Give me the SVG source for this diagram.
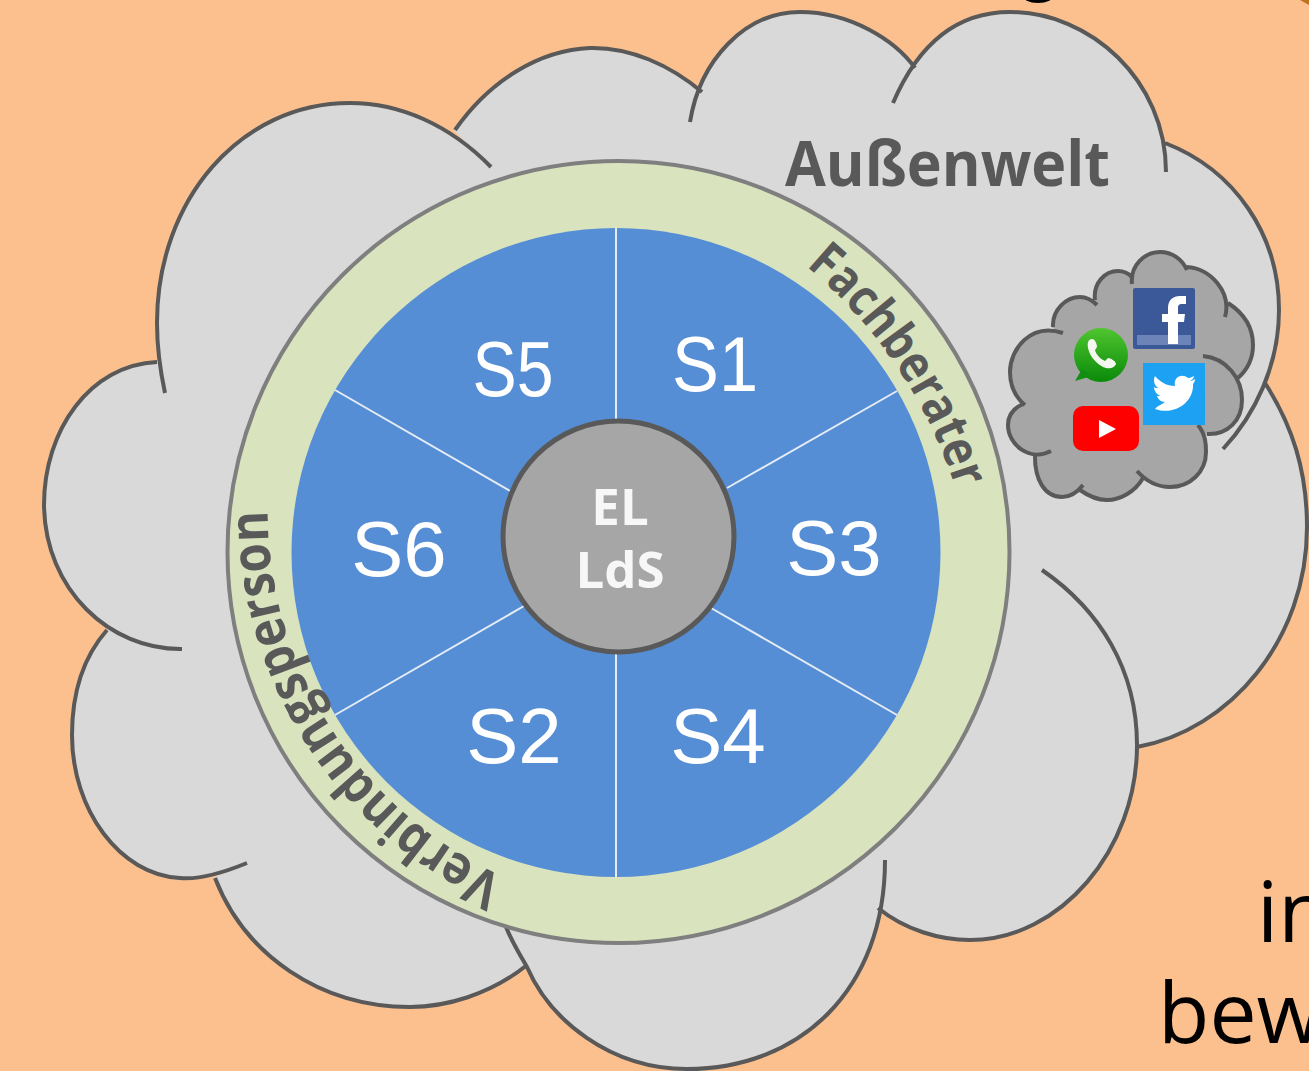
<svg xmlns="http://www.w3.org/2000/svg" xmlns:xlink="http://www.w3.org/1999/xlink" width="1309" height="1071" viewBox="0 0 1309 1071">
<style>
.sl{font-family:"Liberation Sans",Arial,sans-serif;font-size:78px;fill:#fff;text-anchor:middle}
.b{font-family:"Open Sans","Liberation Sans",sans-serif;font-weight:700}
.cl{stroke:#595959;fill:none;stroke-width:4;stroke-linecap:butt}
.seg{stroke:#e6ecf5;stroke-width:2;fill:none}
.blk{font-family:"Open Sans","Liberation Sans",sans-serif;font-size:84px;fill:#000}
</style>
<defs>
<path id="big" d="M165 393C159 365 157 340 157 323C157 200 240 103 350 103C400 103 450 125 491 167M182 649C110 650 45 590 44 505C44 430 90 365 157 362M247 863C225 872 200 880 180 878C120 875 72 810 72 735C72 690 85 655 107 630M527 965C490 995 445 1007 410 1007C320 1007 245 955 215 878M885 860C885 990 800 1069 687 1069C610 1069 550 1020 527 967C520 955 512 942 506 927M878 908C905 930 940 940 970 940C1060 940 1137 850 1137 745C1137 670 1100 610 1042 570M1137 747C1230 730 1307 640 1307 527C1307 470 1292 425 1265 383M1223 449C1255 415 1279 365 1279 310C1279 235 1235 170 1165 143M893 103C920 40 960 12 1010 12C1090 12 1166 80 1166 172M690 122C700 60 745 12 800 12C850 12 895 40 915 68M455 130C490 80 540 50 590 48C630 47 670 65 702 92"/>
<path id="small" d="M1132 284C1130 265 1145 252 1160 252C1172 252 1182 259 1187 270M1187 267C1210 268 1232 292 1225 317M1228 303C1245 314 1253 328 1253 345C1253 358 1247 370 1238 378M1203 356C1226 358 1242 378 1242 400C1242 420 1228 435 1207 434M1198 425C1206 435 1206 445 1206 452C1206 472 1190 487 1170 487C1158 487 1146 481 1137 471M1143 478C1135 492 1120 500 1107 500C1097 500 1087 495 1080 490M1083 485C1076 494 1068 497 1062 497C1045 497 1034 480 1035 453M1051 451C1030 462 1008 445 1008 425C1008 415 1014 408 1023 404M1025 405C1014 396 1010 385 1010 372C1010 350 1030 322 1063 333M1053 327C1052 310 1066 297 1080 297C1087 297 1092 300 1097 305M1095 300C1093 283 1105 271 1118 271C1124 271 1129 274 1132 277"/>
<linearGradient id="wa" x1="0" y1="0" x2="0" y2="1"><stop offset="0" stop-color="#4fc52f"/><stop offset="1" stop-color="#0a8a0a"/></linearGradient>
<path id="arcF" d="M806 266A480 480 0 0 1 971 552"/>
<path id="arcV" d="M504 877A400 400 0 0 1 272 454"/>
</defs>
<rect width="1309" height="1071" fill="#fcc08f"/>
<g id="fragments">
<ellipse cx="1038" cy="-5" rx="16" ry="8" fill="#000"/>
<path d="M1300 0L1309 0L1309 5Z" fill="#c0701f"/>
<text class="blk" x="1257" y="942">in</text>
<text class="blk" x="1158" y="1043">bew</text>
</g>
<g id="aussenwelt">
<path d="M182 649L157 362L165 393L491 167L455 130L702 92L690 122L915 68L893 103L1166 172L1165 143L1223 449L1265 383L1137 747L1042 570L878 908L885 860L506 927L527 965L215 878L247 863L107 630Z" fill="#d9d9d9" stroke="#d9d9d9" stroke-width="2" stroke-linejoin="round"/>
<use xlink:href="#big" href="#big" fill="#d9d9d9"/>
<use xlink:href="#big" href="#big" class="cl"/>
<text class="b" x="785" y="186" font-size="62" fill="#595959" textLength="325" lengthAdjust="spacingAndGlyphs">Außenwelt</text>
</g>
<g id="social">
<path d="M1095 300L1132 277L1132 284L1187 270L1187 267L1225 317L1228 303L1238 378L1203 356L1207 434L1198 425L1137 471L1143 478L1080 490L1083 485L1035 453L1051 451L1023 404L1025 405L1063 333L1053 327L1097 305Z" fill="#a6a6a6" stroke="#a6a6a6" stroke-width="2" stroke-linejoin="round"/>
<use xlink:href="#small" href="#small" fill="#a6a6a6"/>
<use xlink:href="#small" href="#small" class="cl"/>
<g id="facebook">
<rect x="1133" y="288" width="62" height="61" rx="2" fill="#3b5998"/>
<rect x="1137" y="335" width="54" height="10" fill="#6d84b8"/>
<path d="M1168 344V322H1162V314H1168V308C1168 300 1173 296 1180 296H1186V304H1182C1179 304 1178 305 1178 308V314H1185L1184 322H1178V344Z" fill="#fff"/>
</g>
<g id="twitter">
<rect x="1143" y="363" width="62" height="62" fill="#1da1f2"/>
<path d="M1195 379C1193 380 1192 381 1190 381C1192 380 1194 378 1194 376C1192 377 1190 378 1188 378C1182 373 1173 377 1175 386C1167 386 1160 382 1155 376C1153 380 1154 385 1158 388C1156 388 1155 388 1154 387C1154 391 1157 395 1161 396C1160 396 1158 396 1157 396C1158 399 1161 402 1165 402C1161 405 1157 406 1155 409C1175 416 1194 402 1193 384C1194 383 1195 381 1195 379Z" fill="#fff"/>
</g>
<g id="whatsapp">
<circle cx="1101" cy="355" r="27" fill="url(#wa)"/>
<path d="M1082 369L1075 381L1092 376Z" fill="#128f12"/>
<path d="M1088 342C1086 350 1093 362 1103 367C1110 370 1115 367 1116 364C1116 361 1110 358 1108 358L1105 361C1100 359 1096 354 1095 350L1097 347C1097 344 1095 339 1092 339C1090 339 1089 340 1088 342Z" fill="#f4f8f0"/>
</g>
<g id="youtube">
<rect x="1073" y="406" width="66" height="45" rx="10" fill="#f00"/>
<path d="M1099 420L1116 429L1099 438Z" fill="#fff"/>
</g>
</g>
<g id="ring">
<circle cx="618.500" cy="552" r="391" fill="#d9e4be" stroke="#7f7f7f" stroke-width="4"/>
</g>
<g id="disc">
<circle cx="616" cy="552.500" r="324.500" fill="#558ed5"/>
</g>
<g id="ringlabels">
<text class="b" font-size="51" fill="#595959"><textPath xlink:href="#arcF" href="#arcF" textLength="272" lengthAdjust="spacingAndGlyphs">Fachberater</textPath></text>
<text class="b" font-size="54" fill="#595959"><textPath xlink:href="#arcV" href="#arcV" textLength="461" lengthAdjust="spacingAndGlyphs">Verbindungsperson</textPath></text>
</g>
<g id="connectors">
<path class="seg" d="M616 228V420M616 653V877M335 390L510 491M897 391L727 488M335 715L524 606M897 715L711 608"/>
</g>
<g id="s5"><text class="sl" x="513" y="396" textLength="81" lengthAdjust="spacingAndGlyphs">S5</text></g>
<g id="s1"><text class="sl" x="715" y="391" textLength="86" lengthAdjust="spacingAndGlyphs">S1</text></g>
<g id="s6"><text class="sl" x="399" y="576">S6</text></g>
<g id="s3"><text class="sl" x="834" y="575">S3</text></g>
<g id="s2"><text class="sl" x="514" y="763">S2</text></g>
<g id="s4"><text class="sl" x="718" y="763">S4</text></g>
<g id="center">
<circle cx="618.500" cy="536.500" r="115.500" fill="#a6a6a6" stroke="#595959" stroke-width="5"/>
<text class="b" x="620" y="525" font-size="51" fill="#f7f7f7" text-anchor="middle">EL</text>
<text class="b" x="620" y="588" font-size="51" fill="#f7f7f7" text-anchor="middle">LdS</text>
</g>
</svg>
